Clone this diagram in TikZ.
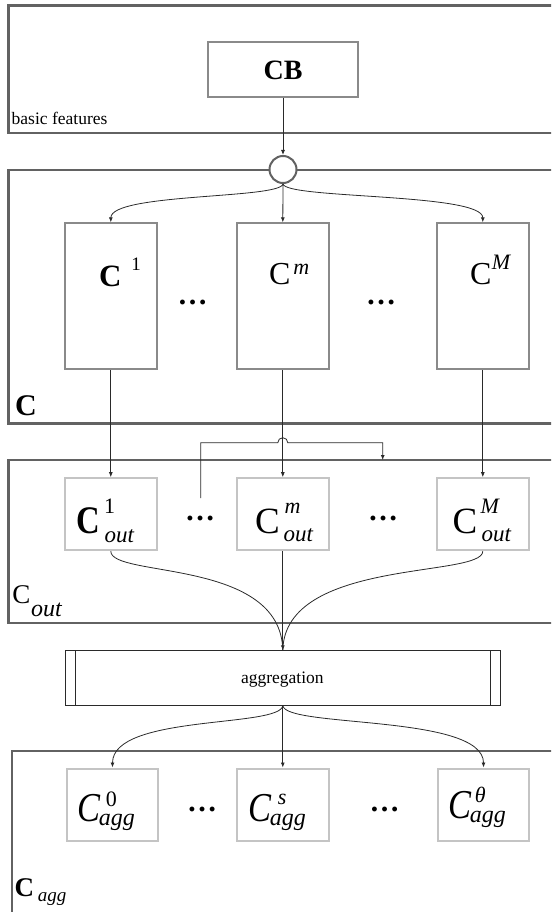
\documentclass[tikz,border=0pt]{standalone}
\usepackage{fontspec}
\setmainfont{Liberation Serif}
\newfontfamily\narrowfont[FakeStretch=0.84]{Liberation Serif}
\usetikzlibrary{arrows.meta}
\definecolor{framec}{HTML}{626262}
\definecolor{boxc}{HTML}{8A8A8A}
\definecolor{lightc}{HTML}{C4C4C4}
\definecolor{linec}{HTML}{2A2A2A}
\newcommand{\fsz}[1]{\fontsize{#1}{#1}\selectfont}
\newcommand{\supsub}[5]{{#1}\rlap{\raisebox{#4}{#2}}\raisebox{-#5}{#3}}
\begin{document}
\begin{tikzpicture}[x=1pt,y=-1pt,
  frame/.style={draw=framec, line width=2.4pt},
  cbox/.style={draw=boxc, line width=2pt, fill=white, minimum width=91.5pt, minimum height=145.7pt, inner sep=0pt},
  obox/.style={draw=lightc, line width=2pt, fill=white, minimum width=91.5pt, minimum height=72pt, inner sep=0pt},
  txt/.style={inner sep=0pt, outer sep=0pt, anchor=base west},
  conn/.style={draw=linec, line width=0.8pt, -{Latex[length=5pt,width=4pt]}},
  plain/.style={draw=linec, line width=0.8pt},
  dots/.style={inner sep=0pt, font=\fsz{30}\bfseries}]
\useasboundingbox (0,0) rectangle (551,912);
\clip (0,0) rectangle (551,912);
% frames
\draw[frame] (8.3,5.7) rectangle (580,133.3);
\draw[frame] (8.3,170) rectangle (580,423.3);
\draw[frame] (8.3,460) rectangle (580,622.7);
\draw[frame] (11.7,750.7) rectangle (580,940);
% frame labels
\node[txt, font=\fsz{17.5}] (lbf) at (11.7,125) {basic features};
\node[txt, font=\fsz{30}\bfseries] (lc) at (15,415) {C};
\node[txt] (lcout) at (12.5,603) {\supsub{\fsz{27}C}{}{\fsz{24}\kern0.5pt\itshape out}{0pt}{13.5pt}};
\node[txt] (lcagg) at (14.5,896.7) {\supsub{\fsz{27}\bfseries C}{}{\fsz{19}\kern4pt\itshape agg}{0pt}{5pt}};
% CB
\node[draw=boxc, line width=2pt, minimum width=149.4pt, minimum height=54.4pt, inner sep=0pt] (CB) at (283,69.5) {};
\node[inner sep=0pt, anchor=base, font=\fsz{28}\bfseries] (cbt) at (283,79.3) {CB};
% circle
\node[circle, draw=framec, line width=2pt, fill=white, minimum size=27pt, inner sep=0pt] (circ) at (283,169.5) {};
% C boxes
\node[cbox] (C1) at (110.8,296.2) {};
\node[cbox] (Cm) at (282.8,296.2) {};
\node[cbox] (CM) at (482.8,296.2) {};
\node[txt] (t1) at (99,286) {\supsub{\fsz{31}\bfseries C}{\fsz{19}\kern10pt 1}{}{16pt}{0pt}};
\node[txt] (tm) at (269,284) {\supsub{\fsz{32}C}{\fsz{22}\kern3pt\itshape m}{}{10pt}{0pt}};
\node[txt] (tM) at (470,284) {\supsub{\fsz{32}C}{\fsz{22}\kern0.5pt\itshape M}{}{15pt}{0pt}};
\node[dots] (d1) at (192.5,302) {…};
\node[dots] (d2) at (381,302) {…};
% Cout boxes
\node[obox] (C1o) at (110.8,514.2) {};
\node[obox] (Cmo) at (282.8,514.2) {};
\node[obox] (CMo) at (482.8,514.2) {};
\node[txt] (t1o) at (76,533.5) {\supsub{\narrowfont\fsz{39}\bfseries C}{\fsz{22}\kern4.5pt 1}{\fsz{23}\kern5pt\itshape out}{20pt}{9pt}};
\node[txt] (tmo) at (255,533.5) {\supsub{\fsz{37}C}{\fsz{22}\kern5pt\itshape m}{\fsz{23}\kern4pt\itshape out}{20pt}{7.5pt}};
\node[txt] (tMo) at (452.5,533.5) {\supsub{\fsz{37}C}{\fsz{22}\kern3.5pt\itshape M}{\fsz{23}\kern4.5pt\itshape out}{20pt}{8pt}};
\node[dots] (d3) at (200,518) {…};
\node[dots] (d4) at (383,518) {…};
% aggregation
\node[draw=linec, line width=0.8pt, minimum width=435.7pt, minimum height=54.3pt, inner sep=0pt, fill=white] (agg) at (282.8,677.9) {};
\draw[plain] ([xshift=11pt]agg.north west) -- ([xshift=11pt]agg.south west);
\draw[plain] ([xshift=-11pt]agg.north east) -- ([xshift=-11pt]agg.south east);
\node[inner sep=0pt, anchor=base, font=\fsz{17.5}] (aggt) at (282.4,683) {aggregation};
% Cagg boxes
\node[obox] (Ca0) at (112.5,804.5) {};
\node[obox] (Cas) at (282.8,804.5) {};
\node[obox] (Cat) at (483.5,804.5) {};
\node[txt] (ta0) at (77,821.7) {\supsub{\narrowfont\fsz{41}\itshape C}{\fsz{22}\kern6pt 0}{\fsz{24}\kern-1pt\itshape agg}{15pt}{4pt}};
\node[txt] (tas) at (248,821.7) {\supsub{\narrowfont\fsz{41}\itshape C}{\fsz{22}\kern7pt\itshape s}{\fsz{24}\kern-1pt\itshape agg}{17pt}{4pt}};
\node[txt] (tat) at (448,818) {\supsub{\narrowfont\fsz{41}\itshape C}{\fsz{22}\kern4pt\itshape θ}{\fsz{24}\kern-1pt\itshape agg}{16pt}{4pt}};
\node[dots] (d5) at (202,809.3) {…};
\node[dots] (d6) at (384.5,809.3) {…};
% connectors
\draw[conn] (CB.south) -- (circ.north);
\draw[conn] (circ.south) .. controls (280,199) and (111,193) .. (C1.north);
\draw[conn] (circ.south) -- (Cm.north);
\draw[conn] (circ.south) .. controls (286,199) and (482.8,193) .. (CM.north);
\draw[conn] (C1.south) -- (C1o.north);
\draw[conn] (Cm.south) -- (Cmo.north);
\draw[conn] (CM.south) -- (CMo.north);
\coordinate (bypS) at (200.7,498);
\coordinate (bypE) at (382.7,460);
\draw[conn] (bypS) -- (200.7,442.7) -- (277.8,442.7) arc[start angle=180, end angle=360, radius=5] -- (382.7,442.7) -- (bypE);
\draw[plain] (C1o.south) .. controls (111,578) and (281,558) .. (agg.north);
\draw[plain] (CMo.south) .. controls (482.8,578) and (284.6,558) .. (agg.north);
\draw[conn] (Cmo.south) -- (agg.north);
\draw[conn] (agg.south) .. controls (281,728) and (112.5,714) .. (Ca0.north);
\draw[conn] (agg.south) -- (Cas.north);
\draw[conn] (agg.south) .. controls (284.6,728) and (483.5,714) .. (Cat.north);
\end{tikzpicture}
\end{document}
